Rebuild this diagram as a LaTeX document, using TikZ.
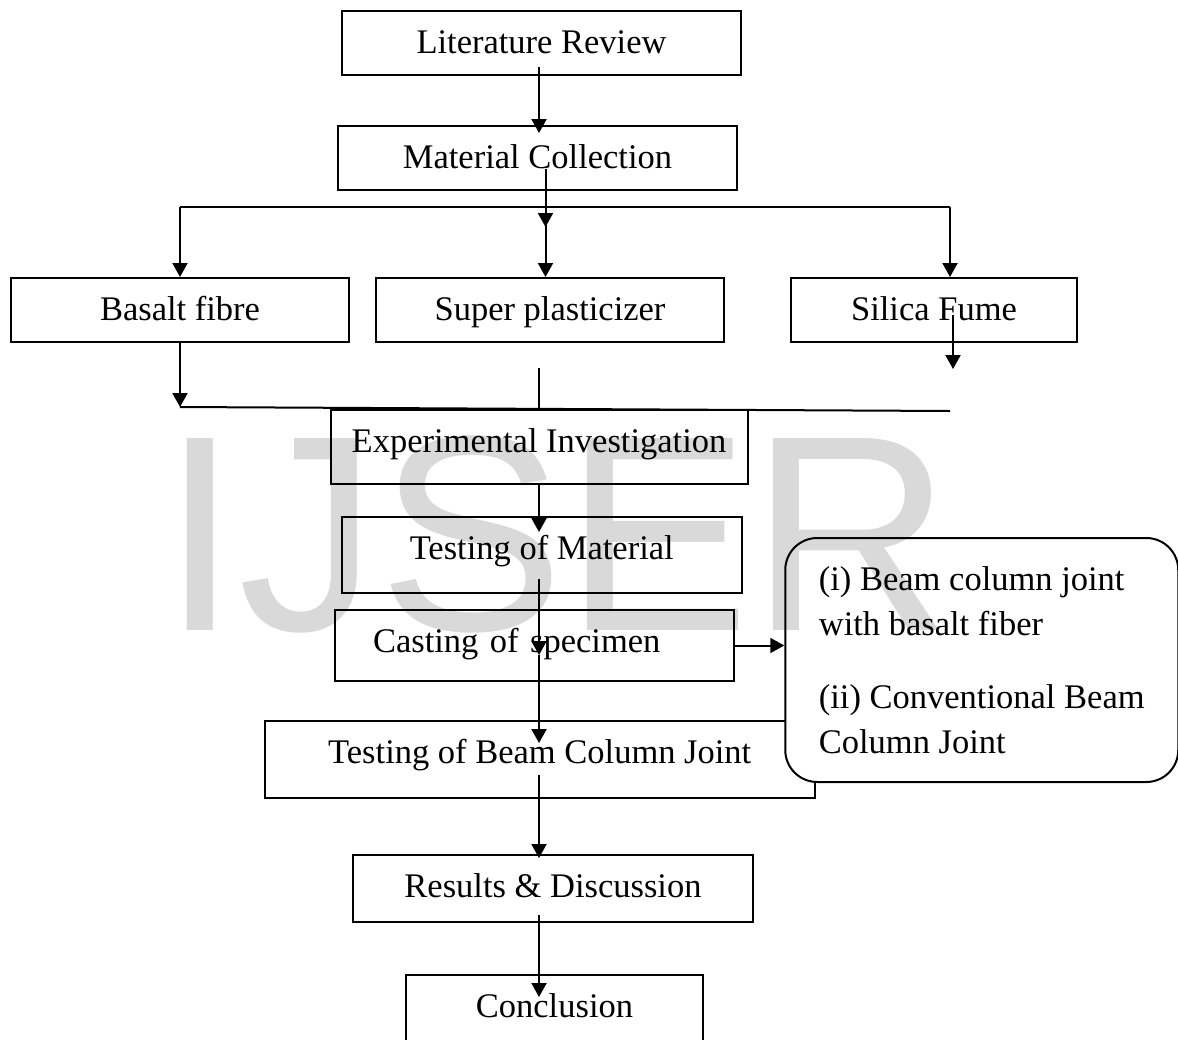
\documentclass[tikz,border=0pt]{standalone}
\usepackage{fontspec}
\setmainfont{Liberation Serif}
\newfontfamily\wmfont{Liberation Sans}
\usetikzlibrary{arrows.meta}
\definecolor{wmgray}{RGB}{217,217,217}
\begin{document}
\begin{tikzpicture}[x=0.5pt,y=-0.5pt, line width=1pt,
  every node/.style={font=\fontsize{17.25}{22.5}\selectfont},
  box/.style={draw, anchor=north, inner ysep=0pt, text height=21pt},
  arr/.style={-{Triangle[length=7pt,width=7.5pt]}}]
\useasboundingbox (0,0) rectangle (1178,1039);
\clip (0,0) rectangle (1178,1039);
% boxes
\node[box, minimum width=199.5pt, text depth=11pt] (lit) at (541.5,10) {Literature Review};
\node[box, minimum width=199.5pt, text depth=11pt] (mat) at (537.5,125) {Material Collection};
\node[box, minimum width=169pt, text depth=11pt] (bas) at (180,277) {Basalt fibre};
\node[box, minimum width=173.75pt, text depth=11pt] (sup) at (550,277) {Super plasticizer};
\node[box, minimum width=143pt, text depth=11pt] (sil) at (934,277) {Silica Fume};
\node[box, minimum width=208.5pt, text depth=16pt] (exp) at (539,409) {Experimental Investigation};
\node[box, minimum width=199.75pt, text depth=17pt] (tm) at (541.75,516) {Testing of Material};
\node[box, text width=161.5pt, inner xsep=19pt, align=left, text depth=14.5pt] (cast) at (534.5,609) {Casting of specimen};
\node[box, minimum width=275.25pt, text depth=17.5pt] (beam) at (539.75,720) {Testing of Beam Column Joint};
\node[box, minimum width=200pt, text depth=12.5pt] (res) at (553,854) {Results \& Discussion};
\node[box, minimum width=148.5pt, text depth=14pt] (conc) at (554.5,974) {Conclusion};
\node[draw, fill=white, rounded corners=16pt, align=left, minimum width=196.5pt, minimum height=122pt] (opt) at (981.75,660)
  {(i) Beam column joint\\with basalt fiber\\[14pt](ii) Conventional Beam\\Column Joint};
% branch points
\coordinate (split) at (545.5,207);
\coordinate (splitL) at (180,207);
\coordinate (splitR) at (950,207);
\coordinate (joinL) at (180,407);
\coordinate (joinR) at (950,411);
% connectors
\draw[arr] ([shift={(-2.5,-9)}]lit.south) -- ([shift={(1.5,8)}]mat.north);
\draw[arr] ([shift={(8,-22)}]mat.south) -- ([shift={(0,20)}]split);
\draw (splitL) -- (splitR);
\draw[arr] (splitL) -- (bas.north);
\draw[arr] (split) -- (split |- sup.north);
\draw[arr] (splitR) -- (splitR |- sil.north);
\draw[arr] ([shift={(19,-28)}]sil.south) -- ([shift={(19,26)}]sil.south);
\draw[arr] (bas.south) -- (joinL);
\draw (joinL) -- (joinR);
\draw ([shift={(-11,25)}]sup.south) -- (exp.north);
\draw[arr] (exp.south) -- ([shift={(-2.75,16)}]tm.north);
\draw[arr] ([shift={(-2.75,-15)}]tm.south) -- ([shift={(4.5,46)}]cast.north);
\draw[arr] ([shift={(4.5,46)}]cast.north) -- ([shift={(-0.75,23)}]beam.north);
\draw[arr] (cast.east) -- (cast.east -| opt.west);
\draw[arr] ([shift={(-0.75,-24)}]beam.south) -- ([shift={(-14,4)}]res.north);
\draw[arr] ([shift={(-14,-8)}]res.south) -- ([shift={(-15.5,23)}]conc.north);
% watermark
\node[anchor=base west, inner sep=0pt, text=wmgray, font=\wmfont\fontsize{139.5}{140}\selectfont, blend mode=multiply] (wm) at (160,630) {IJSER};
\end{tikzpicture}
\end{document}
